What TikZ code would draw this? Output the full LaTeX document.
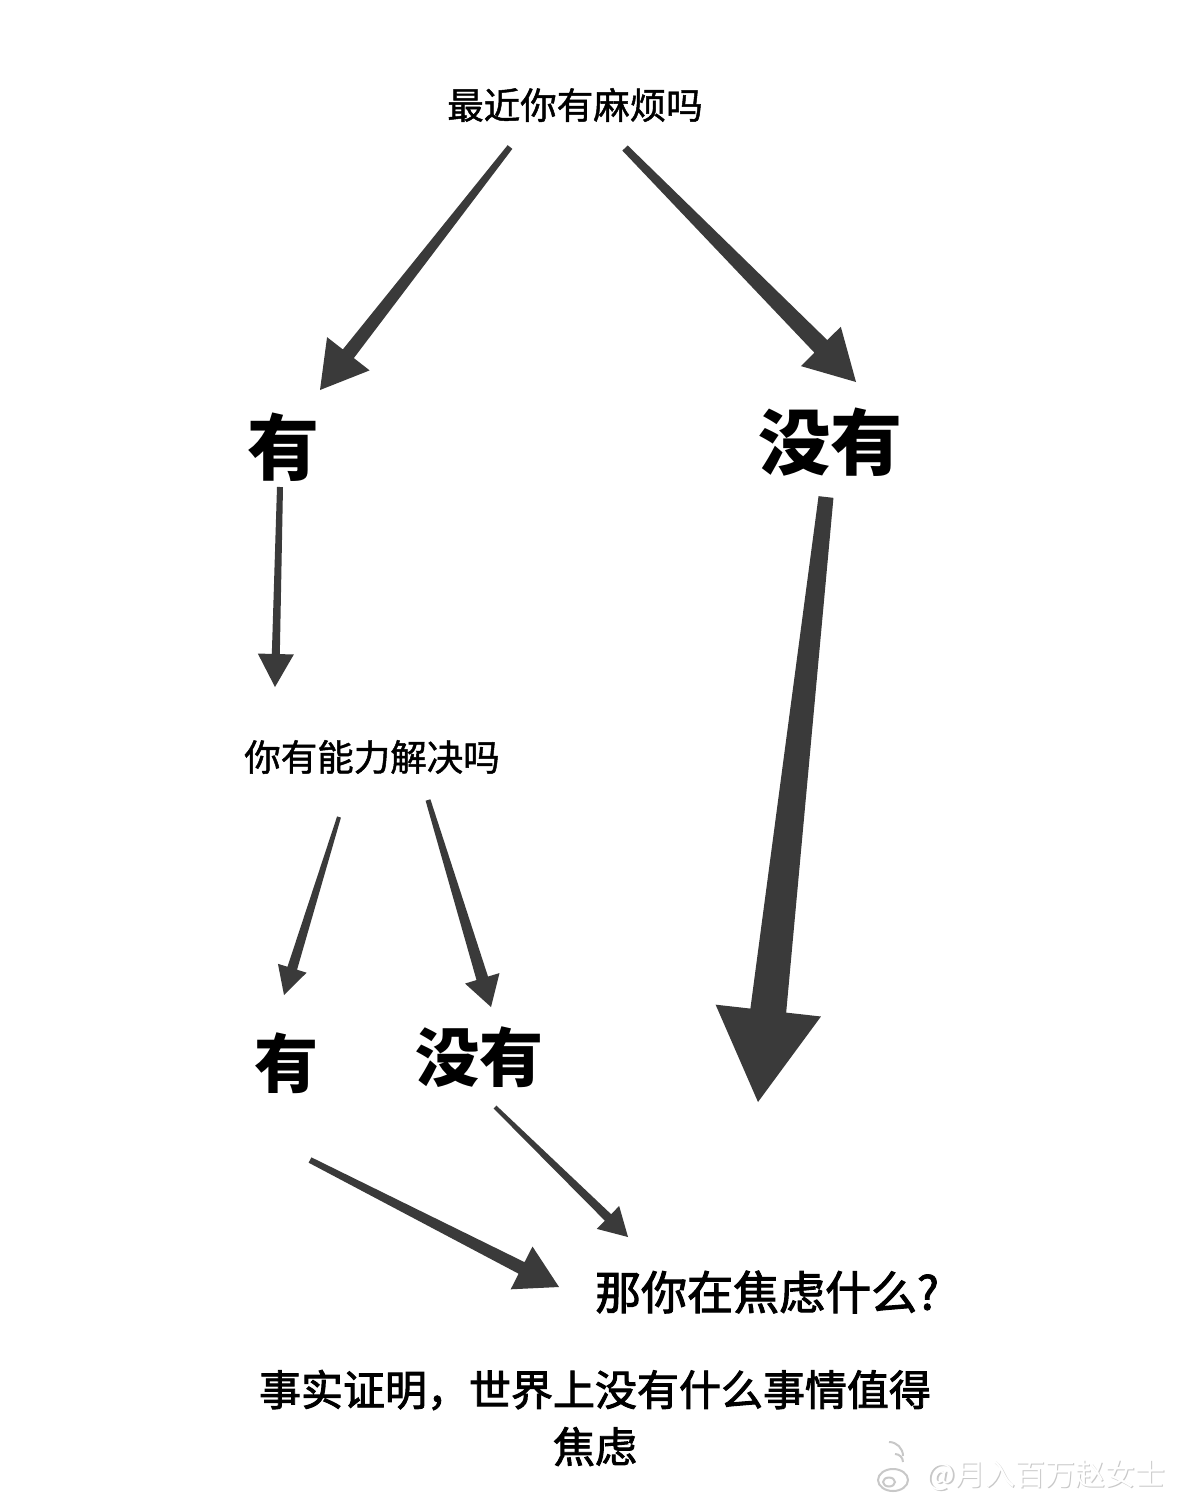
\documentclass[tikz,border=0pt]{standalone}
\usepackage{fontspec}
\setmainfont{Noto Sans CJK SC}
\newfontfamily\medfont[FakeBold=1.3]{Noto Sans CJK SC}
\newfontfamily\semifont[FakeBold=2.2]{Noto Sans CJK SC}
\usetikzlibrary{calc}
\definecolor{arr}{HTML}{3A3A3A}
\definecolor{wm}{HTML}{C8C8C8}
% tapered arrow: #1 start, #2 tip, #3 start half width, #4 shaft half width at head, #5 head half width, #6 head length
\newcommand\taper[6]{%
  \path ($(#2)!#6!(#1)$) coordinate (tpB);
  \fill[arr] ($(#1)!#3!90:(#2)$) -- ($(tpB)!#4!90:(#2)$) -- ($(tpB)!#5!90:(#2)$) -- (#2)
    -- ($(tpB)!#5!-90:(#2)$) -- ($(tpB)!#4!-90:(#2)$) -- ($(#1)!#3!-90:(#2)$) -- cycle;}
\tikzset{
  lbl/.style={inner sep=0pt, text=black},
  q/.style={lbl, font=\fontsize{36.5}{40}\selectfont\medfont},
  big/.style={lbl, font=\fontsize{72}{80}\selectfont\bfseries},
  mid/.style={lbl, font=\fontsize{64}{70}\selectfont\bfseries},
  ans/.style={lbl, font=\fontsize{46}{50}\selectfont\semifont},
  concl/.style={lbl, align=center, font=\fontsize{42}{57}\selectfont\semifont},
  wmtext/.style={inner sep=0pt, font=\fontsize{30}{32}\selectfont}
}
\begin{document}
\begin{tikzpicture}[x=1pt,y=-1pt]
\useasboundingbox[fill=white] (0,0) rectangle (1179,1507);
% labels
\node[q] (top) at (575,105) {最近你有麻烦吗};
\node[big] (yes1) at (283,447) {有};
\node[big] (no1) at (830,442) {没有};
\node[q] (able) at (372,757) {你有能力解决吗};
\node[mid] (yes2) at (286,1063) {有};
\node[mid] (no2) at (479,1057) {没有};
\node[ans] (what) at (767,1292) {那你在焦虑什么?};
\node[concl] (fact) at (595,1418) {事实证明，世界上没有什么事情值得\\焦虑};
% arrow end points
\coordinate (a1s) at (510,147);  \coordinate (a1t) at (320,390);
\coordinate (a2s) at (625,148);  \coordinate (a2t) at (856,382);
\coordinate (a3s) at (280,487);  \coordinate (a3t) at (275,687);
\coordinate (a4s) at (339,817);  \coordinate (a4t) at (284,995);
\coordinate (a5s) at (428,800);  \coordinate (a5t) at (491,1007);
\coordinate (a6s) at (826,497);  \coordinate (a6t) at (758,1102);
\coordinate (a7s) at (310,1160); \coordinate (a7t) at (559,1287);
\coordinate (a8s) at (495,1107); \coordinate (a8t) at (628,1237);
% arrows
\taper{a1s}{a1t}{3pt}{7pt}{27pt}{46pt}
\taper{a2s}{a2t}{3.7pt}{9pt}{28pt}{50pt}
\taper{a3s}{a3t}{3pt}{4pt}{18pt}{33pt}
\taper{a4s}{a4t}{2pt}{5pt}{15pt}{28pt}
\taper{a5s}{a5t}{2.5pt}{6pt}{18pt}{30pt}
\taper{a6s}{a6t}{7.5pt}{18pt}{53pt}{92pt}
\taper{a7s}{a7t}{3pt}{6.5pt}{24pt}{42pt}
\taper{a8s}{a8t}{2pt}{4.5pt}{16pt}{28pt}
% watermark
\begin{scope}[wm, line width=2pt]
  \draw (893,1480) ellipse [x radius=15pt, y radius=11pt];
  \draw (889,1482) ellipse [x radius=6pt, y radius=4.5pt];
  \draw (903,1462) arc[start angle=180, end angle=270, radius=-8pt];
  \draw (903,1456) arc[start angle=180, end angle=270, radius=-14pt];
\end{scope}
\node[wmtext, text=wm] (wmark) at (1047.5,1476.5) {@月入百万赵女士};
\node[wmtext, text=white] at (1046,1475) {@月入百万赵女士};
\end{tikzpicture}
\end{document}
